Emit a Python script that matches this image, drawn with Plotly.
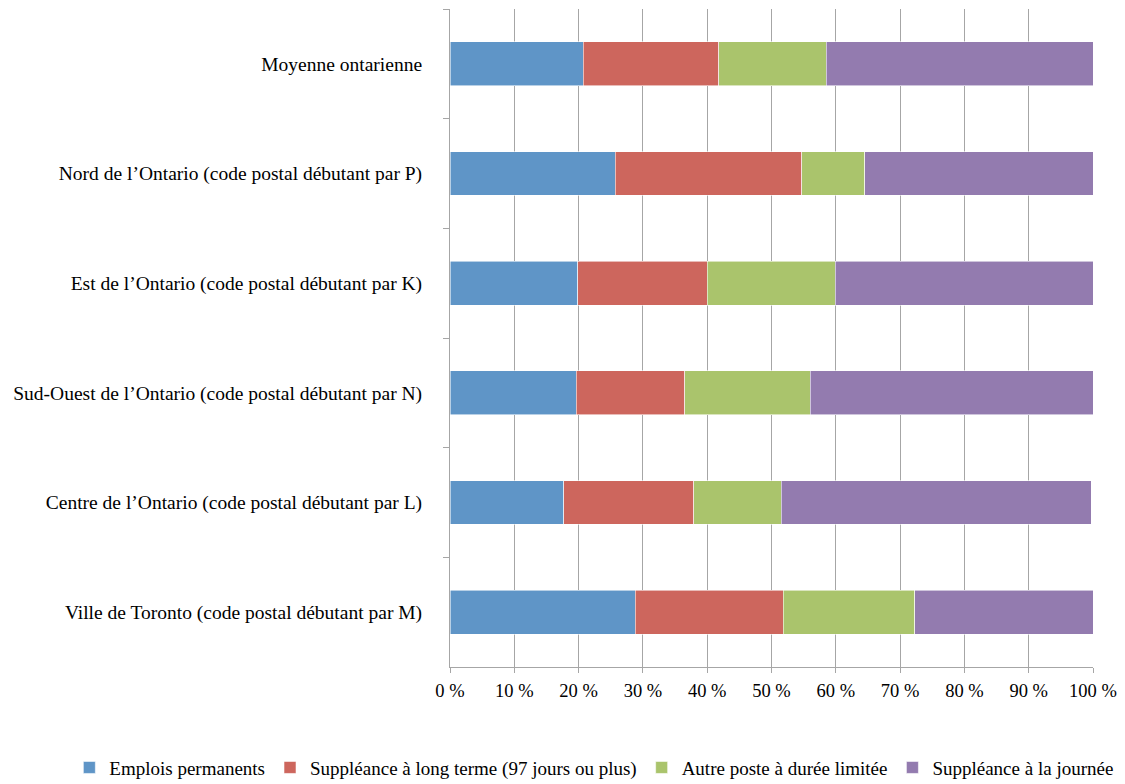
import plotly.graph_objects as go

regions = [
    "Moyenne ontarienne",
    "Nord de l’Ontario (code postal débutant par P)",
    "Est de l’Ontario (code postal débutant par K)",
    "Sud-Ouest de l’Ontario (code postal débutant par N)",
    "Centre de l’Ontario (code postal débutant par L)",
    "Ville de Toronto (code postal débutant par M)",
]
series_names = [
    "Emplois permanents",
    "Suppléance à long terme (97 jours ou plus)",
    "Autre poste à durée limitée",
    "Suppléance à la journée",
]
permanents = [20.7, 25.7, 19.9, 19.6, 17.7, 28.8]
long_terme = [21.1, 29.0, 20.1, 16.9, 20.2, 23.0]
duree_limitee = [16.7, 9.8, 19.9, 19.5, 13.6, 20.5]
journee = [41.5, 35.5, 40.1, 44.0, 48.2, 27.7]
colors = ["#5F95C7", "#CD665D", "#AAC46C", "#937BAF"]
tick_vals = [0, 10, 20, 30, 40, 50, 60, 70, 80, 90, 100]
tick_text = [f"{v} %" for v in tick_vals]

fig = go.Figure()
for name, vals, col in zip(series_names, [permanents, long_terme, duree_limitee, journee], colors):
    fig.add_trace(go.Bar(
        y=regions, x=vals, name=name, orientation="h",
        marker=dict(color=col, line=dict(color="rgba(255,255,255,0.7)", width=0.8)),
        width=0.4,
    ))

fig.update_layout(
    barmode="stack",
    width=1125, height=784,
    margin=dict(l=450, r=32, t=9, b=117, autoexpand=False),
    plot_bgcolor="white", paper_bgcolor="white",
    font=dict(family="Liberation Serif, Times New Roman, serif", size=18, color="black"),
    legend=dict(orientation="h", x=-0.592, xanchor="left", y=-0.124, yanchor="top",
                font=dict(size=19), itemwidth=30, traceorder="normal",
                tracegroupgap=0),
    xaxis=dict(range=[0, 100], tickmode="array", tickvals=tick_vals, ticktext=tick_text,
               showgrid=True, gridcolor="#A6A6A6", gridwidth=1,
               showline=True, linecolor="#A6A6A6", ticks="outside", ticklen=5,
               tickcolor="#A6A6A6", zeroline=False, automargin=False,
               ticklabelstandoff=2, tickfont=dict(size=18.5)),
    yaxis=dict(autorange="reversed", showline=True, linecolor="#A6A6A6",
               ticks="outside", ticklen=6, tickcolor="#A6A6A6", tickson="boundaries",
               showgrid=False, ticklabelstandoff=23, automargin=False,
               tickfont=dict(size=19.5)),
    bargap=0.6,
)

fig.write_html("out.html", post_script="document.body.style.margin='0';",
               config={"displayModeBar": False})
